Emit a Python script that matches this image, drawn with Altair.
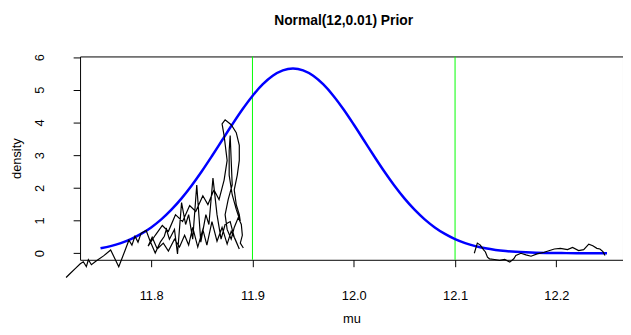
import altair as alt
import pandas as pd

# Blue curve
blue_mu = [11.75, 11.76, 11.77, 11.78, 11.79, 11.80, 11.81, 11.82, 11.83, 11.84,
           11.85, 11.86, 11.87, 11.88, 11.89, 11.90, 11.91, 11.92, 11.93, 11.94,
           11.95, 11.96, 11.97, 11.98, 11.99, 12.00, 12.01, 12.02, 12.03, 12.04,
           12.05, 12.06, 12.07, 12.08, 12.09, 12.10, 12.11, 12.12, 12.13, 12.14,
           12.15, 12.16, 12.17, 12.18, 12.19, 12.20, 12.21, 12.22, 12.23, 12.24, 12.25]
blue_den = [0.151, 0.219, 0.311, 0.433, 0.592, 0.791, 1.037, 1.333, 1.679, 2.072,
            2.507, 2.974, 3.456, 3.937, 4.397, 4.812, 5.162, 5.428, 5.594, 5.65,
            5.594, 5.428, 5.162, 4.812, 4.397, 3.937, 3.456, 2.974, 2.507, 2.072,
            1.679, 1.333, 1.037, 0.791, 0.592, 0.433, 0.311, 0.219, 0.151, 0.102,
            0.068, 0.044, 0.028, 0.017, 0.011, 0.007, 0.004, 0.002, 0.001, 0.001, 0.0]

# Black trace, left piece (path order)
left_mu = [11.716, 11.720, 11.725, 11.730, 11.733, 11.736, 11.738, 11.741, 11.746, 11.753,
           11.760, 11.768, 11.774, 11.778, 11.781, 11.784, 11.787, 11.790, 11.795, 11.799,
           11.804, 11.809, 11.813, 11.815, 11.818, 11.823, 11.826, 11.830, 11.834, 11.837,
           11.841, 11.845, 11.849, 11.854, 11.857, 11.861, 11.865, 11.869, 11.873, 11.878,
           11.882, 11.887,
           11.883, 11.879, 11.875, 11.870, 11.865, 11.860, 11.855, 11.851, 11.846, 11.841,
           11.837, 11.833, 11.828, 11.823, 11.817, 11.812, 11.806, 11.801, 11.797,
           11.804, 11.811, 11.817, 11.824, 11.831, 11.838, 11.844, 11.851, 11.856, 11.862,
           11.867, 11.872, 11.875, 11.872, 11.870, 11.873, 11.879, 11.884, 11.887, 11.887,
           11.885, 11.882, 11.884, 11.887, 11.888, 11.884, 11.880, 11.877, 11.877, 11.878,
           11.879, 11.880, 11.876, 11.873, 11.875, 11.879, 11.882, 11.886, 11.889, 11.890,
           11.888, 11.891]
left_den = [-0.74, -0.62, -0.47, -0.32, -0.26, -0.41, -0.20, -0.35, -0.23, -0.08,
            0.10, -0.41, 0.07, 0.40, 0.25, 0.52, 0.34, 0.61, 0.70, 0.37,
            0.01, 0.34, 0.52, 0.73, 0.43, 0.73, -0.02, 1.55, 0.88, 1.18,
            0.43, 2.09, 0.34, 1.18, 0.88, 2.30, 1.18, 0.43, 0.88, 0.97,
            0.49, 0.13,
            0.43, 0.67, 0.28, 0.79, 0.37, 0.97, 0.25, 0.73, 0.19, 0.79,
            0.25, 0.55, 0.19, 0.43, 0.07, 0.31, 0.13, 0.49, 0.22,
            0.55, 0.85, 0.67, 1.18, 0.97, 1.46, 1.28, 1.76, 1.49, 1.94,
            1.64, 2.24, 2.84, 3.60, 3.96, 4.08, 3.93, 3.69, 3.30, 2.84,
            2.39, 1.94, 1.49, 1.18, 0.97, 1.34, 1.79, 2.39, 3.14, 3.60,
            2.84, 2.09, 1.64, 1.18, 0.73, 0.43, 0.79, 1.09, 0.88, 0.55,
            0.31, 0.16]

# Black trace, right piece
right_mu = [12.119, 12.122, 12.125, 12.128, 12.130, 12.132, 12.134, 12.139, 12.144, 12.149,
            12.154, 12.158, 12.160, 12.165, 12.170, 12.175, 12.181, 12.188, 12.198, 12.204,
            12.211, 12.216, 12.222, 12.227, 12.232, 12.236, 12.240, 12.243, 12.246, 12.248]
right_den = [0.00, 0.31, 0.25, 0.11, 0.04, -0.12, -0.17, -0.19, -0.22, -0.19,
             -0.27, -0.17, -0.07, 0.00, -0.05, -0.09, -0.02, 0.03, 0.13, 0.15,
             0.11, 0.18, 0.08, 0.11, 0.28, 0.23, 0.15, 0.13, 0.05, -0.07]

vlines = [11.9, 12.1]
x_ticks = [11.8, 11.9, 12.0, 12.1, 12.2]
y_ticks = [0, 1, 2, 3, 4, 5, 6]

blue_df = pd.DataFrame({"mu": blue_mu, "density": blue_den})
trace_df = pd.concat([
    pd.DataFrame({"mu": left_mu, "density": left_den, "seg": "a", "i": range(len(left_mu))}),
    pd.DataFrame({"mu": right_mu, "density": right_den, "seg": "b", "i": range(len(right_mu))}),
])
vl_df = pd.DataFrame({"mu": vlines})

FONT = "Liberation Sans"
xs = alt.Scale(domain=[11.7298, 12.2658], nice=False, zero=False)
ys = alt.Scale(domain=[-0.2, 6.02], nice=False, zero=False)

xaxis = alt.Axis(values=x_ticks, format=".1f", title="mu",
                 domain=False, grid=False, tickSize=7, tickColor="black", labelPadding=23,
                 labelOverlap=False, labelFlush=False,
                 labelFontSize=13, labelFont=FONT, labelColor="black",
                 titleFont=FONT, titleFontSize=13, titleFontWeight="normal", titleColor="black",
                 titleY=64, titleBaseline="alphabetic")
yaxis = alt.Axis(values=y_ticks, format="d", title="density",
                 domain=False, grid=False, tickSize=7, tickColor="black", labelPadding=27,
                 labelOverlap=False, labelFlush=False,
                 labelAngle=-90, labelAlign="center", labelBaseline="bottom",
                 labelFontSize=13, labelFont=FONT, labelColor="black",
                 titleFont=FONT, titleFontSize=13, titleFontWeight="normal", titleColor="black",
                 titleX=-64, titleAngle=-90, titleBaseline="middle")

X = alt.X("mu:Q", scale=xs, axis=xaxis)
Y = alt.Y("density:Q", scale=ys, axis=yaxis)

trace = alt.Chart(trace_df).mark_line(color="black", strokeWidth=1.2, clip=False).encode(
    x=X, y=Y, detail="seg:N", order="i:Q")
blue = alt.Chart(blue_df).mark_line(color="#0000FF", strokeWidth=2.5, interpolate="monotone").encode(
    x=X, y=Y)
green = alt.Chart(vl_df).mark_rule(color="#00FF00", strokeWidth=1).encode(x=X)

chart = alt.layer(green, blue, trace).properties(
    width=550, height=206,
    background="white",
    title=alt.TitleParams("Normal(12,0.01) Prior", font=FONT, fontSize=14, fontWeight="bold",
                          anchor="middle", offset=26, dx=-8, color="black"),
    autosize="none",
    padding={"left": 73, "top": 47, "right": 0, "bottom": 66},
).configure_view(stroke="black", strokeWidth=1)

chart.save("out.html", embed_options={"renderer": "svg", "actions": False})
